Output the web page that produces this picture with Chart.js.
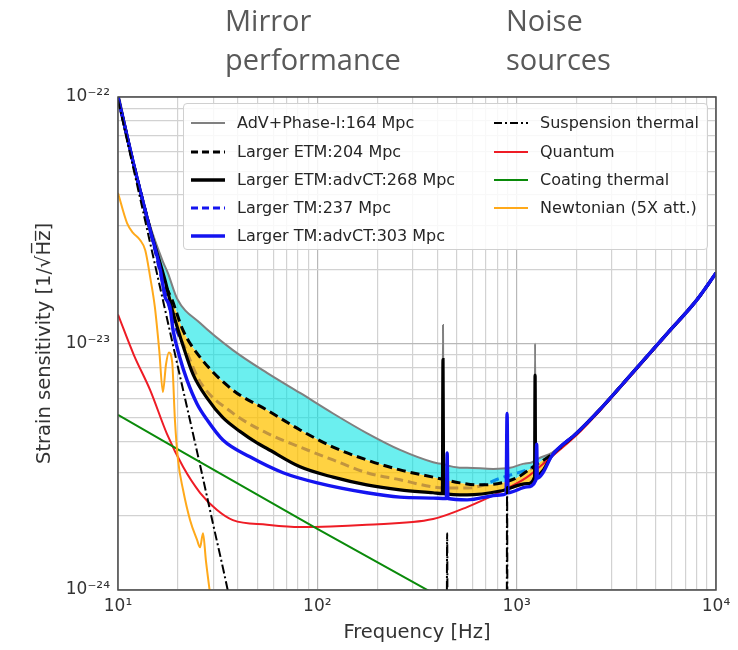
<!DOCTYPE html>
<html><head><meta charset="utf-8">
<script src="https://cdn.jsdelivr.net/npm/chart.js@4.4.1/dist/chart.umd.min.js"></script>
<style>
html,body{margin:0;padding:0;background:#fff;}
#wrap{position:relative;width:738px;height:650px;overflow:hidden;}
#c{position:absolute;left:0;top:0;}
.hdr{position:absolute;top:0;font-family:'Open Sans',sans-serif;font-size:29px;line-height:39px;color:#595959;}
#legend{position:absolute;left:183px;top:103px;width:525px;height:147px;box-sizing:border-box;border:1px solid #d0d0d0;border-radius:4px;background:rgba(255,255,255,0.85);}
.li{position:absolute;height:20px;line-height:20px;font-family:'DejaVu Sans',sans-serif;font-size:16px;color:#262626;white-space:nowrap;}
.li svg{position:absolute;left:0;top:5px;}
.li span{position:absolute;left:47px;top:0;}
</style></head>
<body>
<div id="wrap">
<canvas id="c" width="738" height="650"></canvas>
<div class="hdr" style="left:225px">Mirror<br>performance</div>
<div class="hdr" style="left:506px">Noise<br>sources</div>
<div id="legend"></div>
</div>
<script>
// ---------- tick labels ----------
const xDecades = [1, 2, 3, 4];
const xTickLabels = ['10¹', '10²', '10³', '10⁴'];
const yDecades = [-24, -23, -22];
const yTickLabels = ['10⁻²⁴', '10⁻²³', '10⁻²²'];

// ---------- series names ----------
const seriesNames = ['AdV+Phase-I:164 Mpc', 'Larger ETM:204 Mpc', 'Larger ETM:advCT:268 Mpc',
  'Larger TM:237 Mpc', 'Larger TM:advCT:303 Mpc', 'Suspension thermal', 'Quantum',
  'Coating thermal', 'Newtonian (5X att.)'];

// ---------- AdV+Phase-I (gray) ----------
const advF = [10, 12, 14.5, 16.8, 17.8, 19.8, 25.8, 37.7, 55.9, 81.9, 120, 177, 260, 381, 564, 762, 927, 1128, 1310, 1500, 2000, 2600, 3800, 5700, 8000, 10000];
const advV = [1.05e-22, 5.4e-23, 3.0e-23, 2.15e-23, 1.93e-23, 1.52e-23, 1.21e-23, 9.4e-24, 7.6e-24, 6.3e-24, 5.2e-24, 4.33e-24, 3.7e-24, 3.3e-24, 3.13e-24, 3.1e-24, 3.13e-24, 3.27e-24, 3.44e-24, 3.6e-24, 4.33e-24, 5.37e-24, 7.58e-24, 1.1e-23, 1.5e-23, 1.93e-23];
const advSpikeF = [424, 427, 430, 1230, 1237, 1244];
const advSpikeV = [3.25e-24, 1.19e-23, 3.25e-24, 3.35e-24, 1.0e-23, 3.37e-24];

// ---------- Larger ETM 204 (black dashed) ----------
const etmF = [10, 12, 14.5, 17.2, 18.7, 21.2, 25.8, 37.7, 55.9, 81.9, 120, 177, 260, 381, 520, 632, 800, 1000, 1200, 1500, 2000, 2600, 3800, 5700, 8000, 10000];
const etmV = [1.0e-22, 5.3e-23, 2.9e-23, 1.75e-23, 1.5e-23, 1.13e-23, 8.8e-24, 6.47e-24, 5.37e-24, 4.46e-24, 3.8e-24, 3.37e-24, 3.07e-24, 2.87e-24, 2.72e-24, 2.67e-24, 2.7e-24, 2.85e-24, 3.15e-24, 3.55e-24, 4.33e-24, 5.37e-24, 7.58e-24, 1.1e-23, 1.5e-23, 1.93e-23];

// ---------- Larger ETM advCT 268 (black solid) ----------
const etmCtF = [10, 12, 14.5, 17.2, 18.9, 21.2, 23.8, 28.0, 33.6, 40.9, 49.8, 55.9, 81.9, 120, 177, 260, 381, 564, 826, 1128, 1355, 1500, 2000, 2600, 3800, 5700, 8000, 10000];
const etmCtV = [1.0e-22, 5.3e-23, 2.9e-23, 1.81e-23, 1.33e-23, 9.8e-24, 7.5e-24, 6.0e-24, 5.0e-24, 4.4e-24, 3.95e-24, 3.75e-24, 3.16e-24, 2.87e-24, 2.67e-24, 2.55e-24, 2.48e-24, 2.43e-24, 2.52e-24, 2.7e-24, 3.05e-24, 3.5e-24, 4.33e-24, 5.37e-24, 7.58e-24, 1.1e-23, 1.5e-23, 1.93e-23];
const etmCtSpikeF = [424, 427, 430, 1230, 1237, 1244];
const etmCtSpikeV = [2.46e-24, 8.6e-24, 2.46e-24, 2.87e-24, 7.45e-24, 2.89e-24];

// ---------- Larger TM 237 (blue dashed) ----------
const tmF = [10, 12, 14.5, 17.2, 19.8, 21.2, 25.8, 37.7, 55.9, 81.9, 120, 177, 260, 381, 520, 632, 826, 1128, 1355, 1500, 2000, 2600, 3800, 5700, 8000, 10000];
const tmV = [1.0e-22, 5.3e-23, 2.9e-23, 1.62e-23, 1.12e-23, 1.0e-23, 7.0e-24, 5.22e-24, 4.33e-24, 3.8e-24, 3.37e-24, 2.99e-24, 2.8e-24, 2.62e-24, 2.59e-24, 2.62e-24, 2.84e-24, 3.07e-24, 3.25e-24, 3.55e-24, 4.33e-24, 5.37e-24, 7.58e-24, 1.1e-23, 1.5e-23, 1.93e-23];

// ---------- Larger TM advCT 303 (blue solid) ----------
const tmCtF = [10, 12, 14.5, 16.3, 17.2, 18.2, 18.9, 20.4, 22.2, 24.9, 28.0, 33.6, 45.9, 67.3, 100, 177, 260, 381, 564, 826, 1128, 1355, 1500, 2000, 2600, 3800, 5700, 8000, 10000];
const tmCtV = [1.0e-22, 5.3e-23, 2.88e-23, 1.99e-23, 1.55e-23, 1.41e-23, 1.13e-23, 8.8e-24, 7.1e-24, 5.7e-24, 4.9e-24, 4.06e-24, 3.47e-24, 2.99e-24, 2.72e-24, 2.48e-24, 2.38e-24, 2.36e-24, 2.32e-24, 2.43e-24, 2.62e-24, 2.99e-24, 3.5e-24, 4.33e-24, 5.37e-24, 7.58e-24, 1.1e-23, 1.5e-23, 1.93e-23];
const tmCtSpikeF = [444, 448, 452, 885, 895, 905, 1250, 1260, 1270];
const tmCtSpikeV = [2.35e-24, 3.6e-24, 2.35e-24, 2.46e-24, 5.2e-24, 2.48e-24, 2.8e-24, 3.9e-24, 2.84e-24];

// ---------- Noise sources ----------
const suspF = [10, 13, 16, 20, 25, 30, 35.5, 45, 440, 448, 456, 885, 895, 905];
const suspV = [9.7e-23, 3.79e-23, 1.79e-23, 8.0e-24, 3.6e-24, 1.85e-24, 1.0e-24, 3.7e-25, 1e-27, 1.7e-24, 1e-27, 1e-27, 2.62e-24, 1e-27];

const quantF = [10, 12, 14.5, 17.6, 21.2, 25.8, 31.4, 37.7, 55.9, 81.9, 177, 381, 564, 826, 1128, 1387, 2000, 2600, 3800, 5700, 8000, 10000];
const quantV = [1.31e-23, 9.0e-24, 6.47e-24, 4.3e-24, 3.16e-24, 2.48e-24, 2.11e-24, 1.92e-24, 1.84e-24, 1.8e-24, 1.84e-24, 1.94e-24, 2.17e-24, 2.5e-24, 2.87e-24, 3.3e-24, 4.25e-24, 5.3e-24, 7.5e-24, 1.09e-23, 1.49e-23, 1.92e-23];

const coatF = [10, 100, 1000];
const coatV = [5.13e-24, 1.77e-24, 6.3e-25];

const newtF = [10, 11.1, 11.9, 12.9, 13.7, 14.5, 15.3, 16.1, 16.8, 17.4, 18.0, 18.7, 19.3, 20.0, 21.2, 23.0, 24.9, 25.8, 26.7, 27.6, 28.9, 35];
const newtV = [4.08e-23, 3.08e-23, 2.81e-23, 2.63e-23, 2.39e-23, 1.86e-23, 1.41e-23, 9.4e-24, 6.35e-24, 8.2e-24, 9.2e-24, 8.4e-24, 4.9e-24, 3.37e-24, 2.55e-24, 1.92e-24, 1.6e-24, 1.49e-24, 1.7e-24, 1.32e-24, 9.8e-25, 3e-25];

// ---------- styles ----------
const C_GRAY = '#808080', C_BLACK = '#000000', C_BLUE = '#1414f0', C_RED = '#ee1c25', C_GREEN = '#0a8a0a', C_ORANGE = '#ffa91a';
const C_CYAN = 'rgba(0,228,228,0.58)', C_YELLOW = 'rgba(255,194,0,0.74)';
const DASH = [9, 5], DASHDOT = [9, 3, 2, 3];

const pts = (F, V) => F.map((f, i) => ({x: f, y: V[i]}));
const merged = (F, V, SF, SV) => pts(F, V).concat(pts(SF, SV)).sort((a, b) => a.x - b.x);

function line(label, data, color, width, dash, order) {
  return {label, data, borderColor: color, backgroundColor: color, borderWidth: width,
    borderDash: dash || [], pointRadius: 0, fill: false, order};
}
const TRANSP = 'rgba(0,0,0,0)';

const datasets = [
  // 0: blue dashed (under the fills)
  line(seriesNames[3], pts(tmF, tmV), C_BLUE, 3, DASH, 20),
  // 1: cyan fill helper (AdV base -> Larger ETM)
  {label: 'fillC', data: pts(advF, advV), borderColor: TRANSP, borderWidth: 0, pointRadius: 0, order: 19,
    fill: {target: 2, above: C_CYAN, below: TRANSP}},
  // 2: Larger ETM base helper
  {label: 'baseETM', data: pts(etmF, etmV), borderColor: TRANSP, borderWidth: 0, pointRadius: 0, order: 18, fill: false},
  // 3: yellow fill helper (Larger ETM -> Larger ETM advCT)
  {label: 'fillY', data: pts(etmF, etmV), borderColor: TRANSP, borderWidth: 0, pointRadius: 0, order: 17,
    fill: {target: 4, above: C_YELLOW, below: TRANSP}},
  // 4: Larger ETM advCT base helper
  {label: 'baseETMct', data: pts(etmCtF, etmCtV), borderColor: TRANSP, borderWidth: 0, pointRadius: 0, order: 16, fill: false},
  // noise curve drawn under the sensitivity curves
  line(seriesNames[6], pts(quantF, quantV), C_RED, 2, null, 15),
  // visible lines
  line(seriesNames[0], merged(advF, advV, advSpikeF, advSpikeV), C_GRAY, 2, null, 10),
  line(seriesNames[1], pts(etmF, etmV), C_BLACK, 3, DASH, 9),
  line(seriesNames[2], merged(etmCtF, etmCtV, etmCtSpikeF, etmCtSpikeV), C_BLACK, 3.2, null, 8),
  line(seriesNames[4], merged(tmCtF, tmCtV, tmCtSpikeF, tmCtSpikeV), C_BLUE, 3.4, null, 7),
  line(seriesNames[5], pts(suspF, suspV), C_BLACK, 2, DASHDOT, 5),
  line(seriesNames[7], pts(coatF, coatV), C_GREEN, 2, null, 3),
  line(seriesNames[8], pts(newtF, newtV), C_ORANGE, 2, null, 2),
];

function logTicks(decFrom, decTo) {
  const t = [];
  for (let e = decFrom; e < decTo; e++) for (let m = 1; m <= 9; m++) t.push({value: m * Math.pow(10, e)});
  t.push({value: Math.pow(10, decTo)});
  return t;
}
function decadeIndex(v, decs) {
  const l = Math.log10(v), r = Math.round(l);
  return Math.abs(l - r) < 1e-6 ? decs.indexOf(r) : -1;
}
const gridColor = (decs) => (ctx) => (ctx.tick && decadeIndex(ctx.tick.value, decs) >= 0) ? '#b8b8b8' : '#d2d2d2';

const framePlugin = {
  id: 'frame',
  afterDatasetsDraw(chart) {
    const {ctx, chartArea: a} = chart;
    ctx.save();
    ctx.strokeStyle = '#4a4a4a';
    ctx.lineWidth = 1.5;
    ctx.strokeRect(a.left, a.top, a.right - a.left, a.bottom - a.top);
    ctx.restore();
  }
};

Chart.defaults.font.family = "'DejaVu Sans', sans-serif";
Chart.defaults.color = '#333';

new Chart(document.getElementById('c'), {
  type: 'line',
  data: {datasets},
  options: {
    responsive: false,
    animation: false,
    events: [],
    layout: {padding: {left: 0, top: 97, right: 22, bottom: 0}},
    plugins: {legend: {display: false}, tooltip: {enabled: false},
      filler: {drawTime: 'beforeDatasetDraw'}},
    elements: {point: {radius: 0, hitRadius: 0}, line: {cubicInterpolationMode: 'monotone'}},
    scales: {
      x: {
        type: 'logarithmic', min: 10, max: 10000,
        afterBuildTicks: (ax) => { ax.ticks = logTicks(1, 4); },
        afterFit: (ax) => { ax.height = 60; },
        ticks: {autoSkip: false, maxRotation: 0, padding: 6, font: {size: 17}, color: '#333',
          callback: (v) => { const i = decadeIndex(v, xDecades); return i >= 0 ? xTickLabels[i] : ''; }},
        grid: {color: gridColor(xDecades), lineWidth: 1.2, drawTicks: false},
        border: {display: false},
        title: {display: true, text: 'Frequency [Hz]', font: {size: 19.5}, color: '#333', padding: {top: 0, bottom: 5}}
      },
      y: {
        type: 'logarithmic', min: 1e-24, max: 1e-22,
        afterBuildTicks: (ax) => { ax.ticks = logTicks(-24, -22); },
        afterFit: (ax) => { ax.width = 118; },
        ticks: {autoSkip: false, padding: 8, font: {size: 17}, color: '#333',
          callback: (v) => { const i = decadeIndex(v, yDecades); return i >= 0 ? yTickLabels[i] : ''; }},
        grid: {color: gridColor(yDecades), lineWidth: 1.2, drawTicks: false},
        border: {display: false},
        title: {display: true, text: 'Strain sensitivity [1/√H\u0305z\u0305]', font: {size: 19.5}, color: '#333', padding: {top: 33, bottom: 0}}
      }
    }
  },
  plugins: [framePlugin]
});

// ---------- legend (HTML overlay) ----------
const legendItems = [
  {name: seriesNames[0], color: C_GRAY, w: 2, dash: null, col: 0, row: 0},
  {name: seriesNames[1], color: C_BLACK, w: 3, dash: '7 4', col: 0, row: 1},
  {name: seriesNames[2], color: C_BLACK, w: 3.5, dash: null, col: 0, row: 2},
  {name: seriesNames[3], color: C_BLUE, w: 3, dash: '7 4', col: 0, row: 3},
  {name: seriesNames[4], color: C_BLUE, w: 3.5, dash: null, col: 0, row: 4},
  {name: seriesNames[5], color: C_BLACK, w: 2, dash: '8 3 2 3', col: 1, row: 0},
  {name: seriesNames[6], color: C_RED, w: 2, dash: null, col: 1, row: 1},
  {name: seriesNames[7], color: C_GREEN, w: 2, dash: null, col: 1, row: 2},
  {name: seriesNames[8], color: C_ORANGE, w: 2, dash: null, col: 1, row: 3},
];
const colLeft = [6, 309];
const rowCenter = [19, 47.5, 75.5, 103.5, 132];
const lg = document.getElementById('legend');
legendItems.forEach(it => {
  const d = document.createElement('div');
  d.className = 'li';
  d.style.left = colLeft[it.col] + 'px';
  d.style.top = (rowCenter[it.row] - 10) + 'px';
  d.innerHTML = '<svg width="36" height="10"><line x1="1" y1="5" x2="35" y2="5" stroke="' + it.color +
    '" stroke-width="' + it.w + '"' + (it.dash ? ' stroke-dasharray="' + it.dash + '"' : '') + '/></svg>';
  const s = document.createElement('span');
  s.textContent = it.name;
  d.appendChild(s);
  lg.appendChild(d);
});
</script>
</body></html>
